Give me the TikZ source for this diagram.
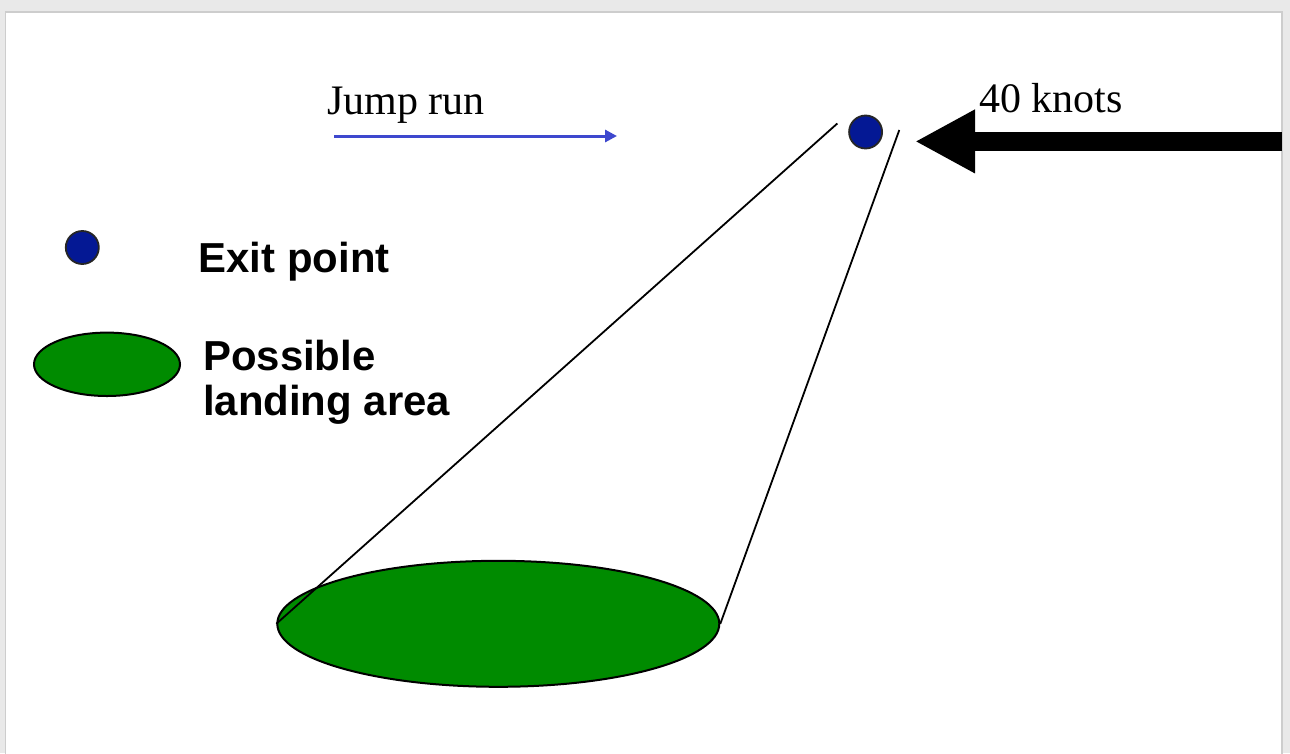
\documentclass[tikz,border=0pt]{standalone}
\usepackage{fontspec}
\setmainfont{Liberation Serif}
\newfontfamily\arialbold[BoldFont={* Bold}]{Liberation Sans}
\usetikzlibrary{arrows.meta,shapes.geometric}
\definecolor{pagegray}{RGB}{233,233,233}
\definecolor{edgegray}{RGB}{205,205,205}
\definecolor{runblue}{RGB}{62,72,206}
\definecolor{dotblue}{RGB}{4,24,148}
\definecolor{areagreen}{RGB}{0,139,0}
\tikzset{
  serifText/.style={inner sep=0pt, anchor=base west, font=\fontsize{42}{46}\selectfont},
  sansText/.style={inner sep=0pt, anchor=base west, font=\arialbold\bfseries\fontsize{41.9}{46}\selectfont},
  exitDot/.style={circle, fill=dotblue, draw=black!85, line width=1.8pt, minimum size=33pt, inner sep=0pt},
  areaOval/.style={ellipse, fill=areagreen, draw=black, line width=2pt, inner sep=0pt},
  coneLine/.style={draw=black, line width=1.8pt},
}
\begin{document}
\begin{tikzpicture}[x=1pt,y=-1pt]
\useasboundingbox (0,0) rectangle (1290,753);
\clip (0,0) rectangle (1290,753);
\fill[pagegray] (0,0) rectangle (1290,753);
\filldraw[fill=white, draw=edgegray, line width=1.5pt] (5.5,12) rectangle (1282,770);

% jump run
\node[serifText] (jr) at (327,114) {Jump run};
\coordinate (jrA) at (334,136);
\coordinate (jrB) at (617,136);
\draw[runblue, line width=3pt, -{Triangle[length=12pt 0 0,width=12pt 0 0]}] (jrA) -- (jrB);

% wind
\node[serifText] (kn) at (979,112.5) {40 knots};
\coordinate (wA) at (1281.5,141.4);
\coordinate (wB) at (915,141.4);
\draw[black, line width=19.3pt, -{Triangle[length=60pt 0 0,width=59.4pt 0 0]}] (wA) -- (wB);

% legend
\node[exitDot] (lgdot) at (82.3,247.5) {};
\node[sansText] (lgexit) at (198.5,272.3) {Exit point};
\node[areaOval, minimum width=146pt, minimum height=63.4pt] (lgoval) at (107,364.3) {};
\node[sansText] (lgposs) at (203,370.7) {Possible};
\node[sansText] (lgland) at (203,415) {landing area};

% exit point and landing area
\node[exitDot] (exit) at (865.6,132) {};
\node[areaOval, minimum width=442pt, minimum height=126pt] (land) at (498.3,623.8) {};
\coordinate (lt) at (837.3,123.5);
\coordinate (rt) at (899.3,130);
\draw[coneLine] (lt) -- (land.west);
\draw[coneLine] (rt) -- (land.east);
\end{tikzpicture}
\end{document}
